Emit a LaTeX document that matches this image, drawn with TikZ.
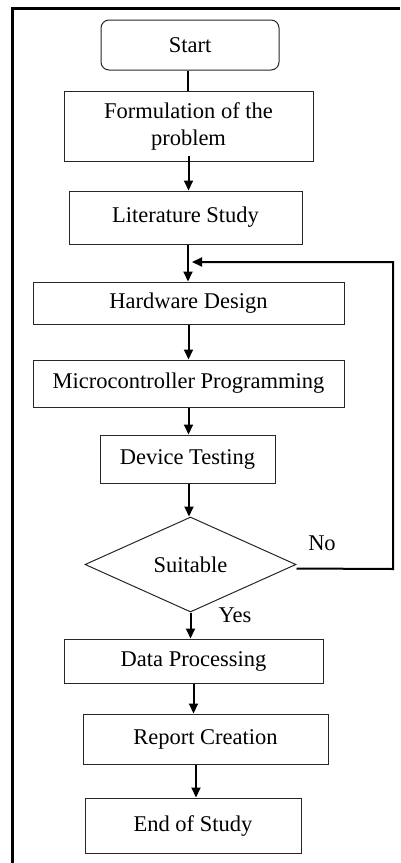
\documentclass[tikz,border=0pt]{standalone}
\usepackage{fontspec}
\setmainfont{Liberation Serif}
\usetikzlibrary{shapes.geometric,arrows.meta}
\begin{document}
\begin{tikzpicture}[x=1pt,y=-1pt,
  txt/.style={font=\fontsize{22.5}{27}\selectfont},
  box/.style={txt,draw=black!85,line width=1pt,inner sep=0pt,align=center},
  flow/.style={line width=2pt},
  arr/.style={flow,-{Triangle[length=10pt,width=9pt]}},
  lab/.style={txt,inner sep=0pt}]
\useasboundingbox (0,0) rectangle (400,863);
% frame (top and left edges)
\draw[line width=3pt] (400,8) -- (12.5,8) -- (12.5,863);

% process steps
\node[box,rounded corners=8pt,minimum width=178pt,minimum height=50pt] (start) at (190,45) {Start};
\node[box,minimum width=249pt,minimum height=70pt] (form) at (188.5,126) {Formulation of the\\problem};
\node[box,minimum width=233pt,minimum height=53pt] (lit) at (185.5,217.5) {Literature Study};
\node[box,minimum width=311pt,minimum height=42pt] (hw) at (188.5,303) {Hardware Design};
\node[box,minimum width=311pt,minimum height=47pt] (micro) at (188.5,383.5) {Microcontroller Programming};
\node[box,minimum width=175pt,minimum height=48pt] (dev) at (187.5,459) {Device Testing};
\node[box,diamond,aspect=2.22,minimum width=211pt,minimum height=95pt] (dia) at (190.5,564.5) {Suitable};
\node[box,minimum width=259pt,minimum height=44pt] (data) at (193.5,661) {Data Processing};
\node[box,minimum width=245pt,minimum height=50pt] (rep) at (205.5,739) {Report Creation};
\node[box,minimum width=216pt,minimum height=55pt] (end) at (193,825.5) {End of Study};

% branch labels
\node[lab] (no) at (322,543) {No};
\node[lab] (yes) at (235,615) {Yes};

% connectors
\draw[flow] ([xshift=-2pt]start.south) -- ([xshift=-2pt]start.south |- form.north);
\draw[arr] ([yshift=6pt]form.south) -- (form.south |- lit.north);
\draw[arr] ([xshift=2.5pt]lit.south) -- ([xshift=2.5pt]lit.south |- hw.north);
\draw[arr] (hw.south) -- (micro.north);
\draw[arr] (micro.south) -- (micro.south |- dev.north);
\draw[arr] ([xshift=1.5pt]dev.south) -- ([xshift=1.5pt]dev.south |- dia.north);
\draw[arr] (dia.south) -- (dia.south |- data.north);
\draw[arr] (data.south) -- (data.south |- rep.north);
\draw[arr] ([xshift=-9.5pt]rep.south) -- ([xshift=-9.5pt]rep.south |- end.north);

% feedback loop from the decision back above Hardware Design
\coordinate (loopR) at (393,569);
\coordinate (join) at (192,262);
\draw[arr,line join=miter] ([yshift=-4pt]dia.east) -- (loopR) -- (loopR |- join) -- (join);
\end{tikzpicture}
\end{document}
